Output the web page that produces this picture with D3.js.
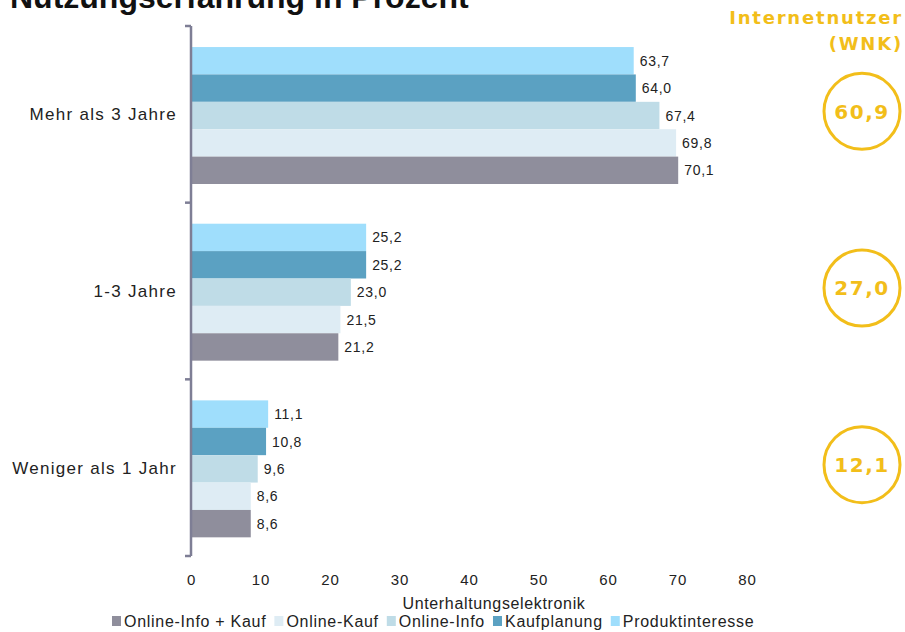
<!DOCTYPE html>
<html>
<head>
<meta charset="utf-8">
<script src="https://cdn.jsdelivr.net/npm/d3@7"></script>
<style>
  html, body { margin: 0; padding: 0; background: #fff; }
  svg { display: block; }
</style>
</head>
<body>
<svg id="chart" width="905" height="632"></svg>
<script>
// Nutzungserfahrung (Jahre) je Kaufphase, Unterhaltungselektronik
const categories = ["Mehr als 3 Jahre", "1-3 Jahre", "Weniger als 1 Jahr"];
const seriesNames = ["Produktinteresse", "Kaufplanung", "Online-Info", "Online-Kauf", "Online-Info + Kauf"];
const legendOrder = ["Online-Info + Kauf", "Online-Kauf", "Online-Info", "Kaufplanung", "Produktinteresse"];
const produktinteresse = [63.7, 25.2, 11.1];
const kaufplanung = [64.0, 25.2, 10.8];
const onlineInfo = [67.4, 23.0, 9.6];
const onlineKauf = [69.8, 21.5, 8.6];
const onlineInfoKauf = [70.1, 21.2, 8.6];
const internetnutzer = [60.9, 27.0, 12.1];
const xTicks = [0, 10, 20, 30, 40, 50, 60, 70, 80];

const seriesValues = {
  "Produktinteresse": produktinteresse,
  "Kaufplanung": kaufplanung,
  "Online-Info": onlineInfo,
  "Online-Kauf": onlineKauf,
  "Online-Info + Kauf": onlineInfoKauf
};
const colors = {
  "Produktinteresse": "#9fdefc",
  "Kaufplanung": "#5ba1c2",
  "Online-Info": "#bfdce7",
  "Online-Kauf": "#deecf4",
  "Online-Info + Kauf": "#8f8e9c"
};
const axisColor = "#7e7e95";
const gold = "#f2be1a";
const fmt = v => d3.format(".1f")(v).replace(".", ",");

const svg = d3.select("#chart");
const sans = "'Liberation Sans', Arial, sans-serif";
const wide = "'DejaVu Sans', Verdana, sans-serif";

const x = d3.scaleLinear().domain([0, 80]).range([191, 747]);
const y = d3.scaleBand().domain(categories).range([26, 556]).padding(0);
const yInner = d3.scaleBand().domain(seriesNames)
  .range([0, y.bandwidth()]).paddingInner(0).paddingOuter(0.725).align(0.53);

// Title (partly above the visible area)
svg.append("text")
  .attr("x", 10).attr("y", 8)
  .attr("font-family", sans).attr("font-weight", "bold")
  .attr("font-size", 32).attr("fill", "#111")
  .text("Nutzungserfahrung in Prozent");

// Bars
const rows = [];
categories.forEach((c, ci) => {
  seriesNames.forEach(s => rows.push({ cat: c, series: s, value: seriesValues[s][ci] }));
});
svg.append("g").selectAll("rect").data(rows).join("rect")
  .attr("x", x(0))
  .attr("y", d => y(d.cat) + yInner(d.series))
  .attr("width", d => x(d.value) - x(0))
  .attr("height", yInner.bandwidth())
  .attr("fill", d => colors[d.series]);

// Value labels
svg.append("g").selectAll("text").data(rows).join("text")
  .attr("x", d => x(d.value) + 6)
  .attr("y", d => y(d.cat) + yInner(d.series) + yInner.bandwidth() / 2)
  .attr("dy", "0.36em")
  .attr("font-family", sans).attr("font-size", 14)
  .attr("letter-spacing", 0.7)
  .attr("fill", "#222")
  .text(d => fmt(d.value));

// Category axis: vertical line with tick marks at band boundaries
const yAxis = svg.append("g");
yAxis.append("line")
  .attr("x1", x(0)).attr("x2", x(0))
  .attr("y1", y.range()[0]).attr("y2", y.range()[1])
  .attr("stroke", axisColor).attr("stroke-width", 2.5);
const bounds = categories.map(c => y(c)).concat([y.range()[1]]);
yAxis.selectAll("line.tick").data(bounds).join("line")
  .attr("class", "tick")
  .attr("x1", x(0) - 6).attr("x2", x(0))
  .attr("y1", d => d).attr("y2", d => d)
  .attr("stroke", axisColor).attr("stroke-width", 2.5);
yAxis.selectAll("text").data(categories).join("text")
  .attr("x", 177)
  .attr("y", d => y(d) + y.bandwidth() / 2)
  .attr("dy", "0.36em")
  .attr("text-anchor", "end")
  .attr("font-family", sans).attr("font-size", 17)
  .attr("letter-spacing", 1.3)
  .attr("fill", "#222")
  .text(d => d);

// Value axis: tick labels only
const xAxis = svg.append("g")
  .attr("transform", "translate(0,574)")
  .call(d3.axisBottom(x).tickValues(xTicks).tickSize(0).tickPadding(0).tickFormat(d3.format("d")));
xAxis.select(".domain").remove();
xAxis.selectAll("text")
  .attr("font-family", sans).attr("font-size", 15)
  .attr("letter-spacing", 0.8)
  .attr("fill", "#222");

svg.append("text")
  .attr("x", 494).attr("y", 609)
  .attr("text-anchor", "middle")
  .attr("font-family", sans).attr("font-size", 16)
  .attr("letter-spacing", 0.65)
  .attr("fill", "#222")
  .text("Unterhaltungselektronik");

// Legend
const legend = svg.append("g").attr("transform", "translate(0,621)");
let lx = 112;
legendOrder.forEach(name => {
  const item = legend.append("g").attr("transform", `translate(${lx},0)`);
  item.append("rect")
    .attr("x", 0).attr("y", -5).attr("width", 9).attr("height", 10)
    .attr("fill", colors[name]);
  const t = item.append("text")
    .attr("x", 12).attr("y", 0).attr("dy", "0.36em")
    .attr("font-family", sans).attr("font-size", 16)
    .attr("letter-spacing", 0.72)
    .attr("fill", "#222")
    .text(name);
  lx += 12 + t.node().getComputedTextLength() + 8;
});

// Internetnutzer (WNK) reference circles
svg.append("text")
  .attr("x", 903).attr("y", 24)
  .attr("text-anchor", "end")
  .attr("font-family", wide).attr("font-weight", "bold")
  .attr("font-size", 18).attr("letter-spacing", 1.8)
  .attr("fill", gold)
  .text("Internetnutzer");
svg.append("text")
  .attr("x", 903).attr("y", 50)
  .attr("text-anchor", "end")
  .attr("font-family", wide).attr("font-weight", "bold")
  .attr("font-size", 18).attr("letter-spacing", 1.8)
  .attr("fill", gold)
  .text("(WNK)");

const circ = svg.append("g").selectAll("g").data(categories).join("g")
  .attr("transform", d => `translate(862,${y(d) + y.bandwidth() / 2 - 3})`);
circ.append("circle")
  .attr("r", 38)
  .attr("fill", "none")
  .attr("stroke", gold).attr("stroke-width", 3);
circ.append("text")
  .attr("text-anchor", "middle").attr("dy", "0.36em")
  .attr("font-family", wide).attr("font-weight", "bold")
  .attr("font-size", 20).attr("letter-spacing", 1.5)
  .attr("fill", gold)
  .text((d, i) => fmt(internetnutzer[i]));
</script>
</body>
</html>
